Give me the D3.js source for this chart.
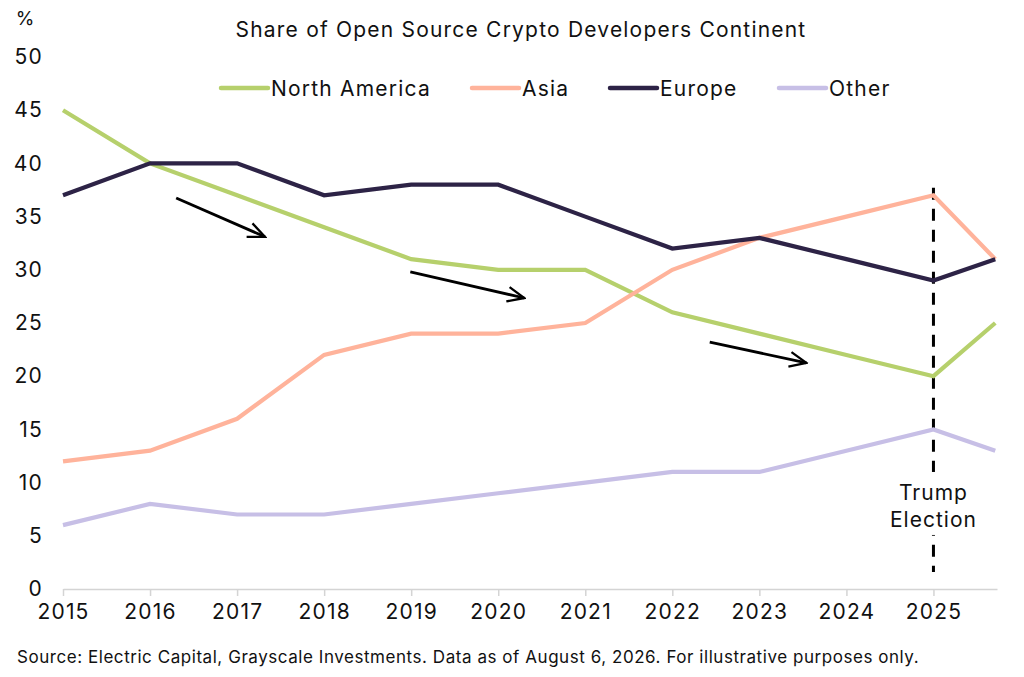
<!DOCTYPE html>
<html>
<head>
<meta charset="utf-8">
<script src="https://cdn.jsdelivr.net/npm/d3@7"></script>
<style>
  body { margin: 0; background: #fff; }
  text { font-family: Inter, "Noto Sans", sans-serif; fill: #111; }
</style>
</head>
<body>
<div id="wrapper"></div>
<script>
// data
const years = [2015, 2016, 2017, 2018, 2019, 2020, 2021, 2022, 2023, 2024, 2025, 2025.71];
const northAmerica = [45, 40, 37, 34, 31, 30, 30, 26, 24, 22, 20, 25];
const asia = [12, 13, 16, 22, 24, 24, 25, 30, 33, 35, 37, 31];
const europe = [37, 40, 40, 37, 38, 38, 35, 32, 33, 31, 29, 31];
const other = [6, 8, 7, 7, 8, 9, 10, 11, 11, 13, 15, 13];
const seriesNames = ["North America", "Asia", "Europe", "Other"];
const seriesColors = ["#b6d06c", "#ffb39b", "#2d2346", "#c7bfe6"];
const xTicks = [2015, 2016, 2017, 2018, 2019, 2020, 2021, 2022, 2023, 2024, 2025];
const yTicks = [0, 5, 10, 15, 20, 25, 30, 35, 40, 45, 50];
// arrows: [x0, y0, x1, y1] in data units
const arrows = [
  [2016.30, 36.75, 2017.32, 33.1],
  [2018.99, 29.8, 2020.30, 27.35],
  [2022.43, 23.2, 2023.54, 21.25]
];
const electionYear = 2025;

const allSeries = [northAmerica, asia, europe, other];

let dimensions = {
  width: 1024,
  height: 677,
  margin: { top: 57, right: 27, bottom: 88, left: 63 }
};
dimensions.boundedWidth = dimensions.width - dimensions.margin.left - dimensions.margin.right;
dimensions.boundedHeight = dimensions.height - dimensions.margin.top - dimensions.margin.bottom;

const svg = d3.select("#wrapper").append("svg")
  .attr("width", dimensions.width)
  .attr("height", dimensions.height);

const bounds = svg.append("g")
  .attr("transform", `translate(${dimensions.margin.left},${dimensions.margin.top})`);

const xScale = d3.scaleLinear()
  .domain([2015, 2025.73])
  .range([0, dimensions.boundedWidth]);

const yScale = d3.scaleLinear()
  .domain([0, 50])
  .range([dimensions.boundedHeight, 0]);

// x axis
const xAxis = bounds.append("g")
  .attr("transform", `translate(0,${dimensions.boundedHeight})`)
  .call(d3.axisBottom(xScale).tickValues(xTicks).tickFormat(d3.format("d")).tickSize(7).tickSizeOuter(0).tickPadding(8));
xAxis.select(".domain").attr("stroke", "#d4d4d4").attr("stroke-width", 1.5);
xAxis.selectAll(".tick line").attr("stroke", "#d4d4d4").attr("stroke-width", 1.5);
xAxis.selectAll(".tick text").attr("font-size", 21).attr("letter-spacing", 1.2).attr("fill", "#111");

// y axis (labels only)
const yAxis = bounds.append("g")
  .call(d3.axisLeft(yScale).tickValues(yTicks).tickSize(0).tickPadding(20));
yAxis.select(".domain").remove();
yAxis.selectAll(".tick text").attr("font-size", 21).attr("letter-spacing", 1.2).attr("fill", "#111");

svg.append("text")
  .attr("x", 25).attr("y", 25)
  .attr("text-anchor", "middle")
  .attr("font-size", 19)
  .text("%");

// title
svg.append("text")
  .attr("x", 521).attr("y", 37)
  .attr("text-anchor", "middle")
  .attr("font-size", 21)
  .attr("letter-spacing", 1.2)
  .text("Share of Open Source Crypto Developers Continent");

// election marker
const ex = xScale(electionYear);
bounds.append("line")
  .attr("x1", ex).attr("x2", ex)
  .attr("y1", yScale(37.7)).attr("y2", yScale(1.6))
  .attr("stroke", "#000")
  .attr("stroke-width", 3)
  .attr("stroke-dasharray", "12,9");
bounds.append("rect")
  .attr("x", ex - 48).attr("y", yScale(11.0))
  .attr("width", 96).attr("height", 63)
  .attr("fill", "#fff");
bounds.append("text")
  .attr("x", ex).attr("y", yScale(8.36))
  .attr("text-anchor", "middle").attr("font-size", 21).attr("letter-spacing", 1)
  .text("Trump");
bounds.append("text")
  .attr("x", ex).attr("y", yScale(5.83))
  .attr("text-anchor", "middle").attr("font-size", 21).attr("letter-spacing", 1)
  .text("Election");

// lines
const lineGenerator = d3.line()
  .x((d, i) => xScale(years[i]))
  .y(d => yScale(d));

allSeries.forEach((s, i) => {
  bounds.append("path")
    .attr("d", lineGenerator(s))
    .attr("fill", "none")
    .attr("stroke", seriesColors[i])
    .attr("stroke-width", 4.2)
    .attr("stroke-linejoin", "miter");
});

// arrows
svg.append("defs").append("marker")
  .attr("id", "head")
  .attr("viewBox", "0 0 10 10")
  .attr("refX", 9).attr("refY", 5)
  .attr("markerWidth", 7.5).attr("markerHeight", 7.5)
  .attr("markerUnits", "strokeWidth")
  .attr("orient", "auto")
  .append("path")
  .attr("d", "M1,1.5 L9,5 L1,8.5")
  .attr("fill", "none")
  .attr("stroke", "#000")
  .attr("stroke-width", 1.1);

arrows.forEach(a => {
  bounds.append("line")
    .attr("x1", xScale(a[0])).attr("y1", yScale(a[1]))
    .attr("x2", xScale(a[2])).attr("y2", yScale(a[3]))
    .attr("stroke", "#000")
    .attr("stroke-width", 2.8)
    .attr("marker-end", "url(#head)");
});

// legend
const legendX = [219, 470, 608, 777];
const legend = svg.append("g");
seriesNames.forEach((name, i) => {
  legend.append("line")
    .attr("x1", legendX[i] + 2).attr("x2", legendX[i] + 49)
    .attr("y1", 88).attr("y2", 88)
    .attr("stroke", seriesColors[i])
    .attr("stroke-width", 4.5)
    .attr("stroke-linecap", "round");
  legend.append("text")
    .attr("x", legendX[i] + 52).attr("y", 95.5)
    .attr("font-size", 21)
    .attr("letter-spacing", 1.2)
    .text(name);
});

// source note
svg.append("text")
  .attr("x", 17).attr("y", 663)
  .attr("font-size", 17)
  .attr("letter-spacing", 0.55)
  .text("Source: Electric Capital, Grayscale Investments. Data as of August 6, 2026. For illustrative purposes only.");
</script>
</body>
</html>
